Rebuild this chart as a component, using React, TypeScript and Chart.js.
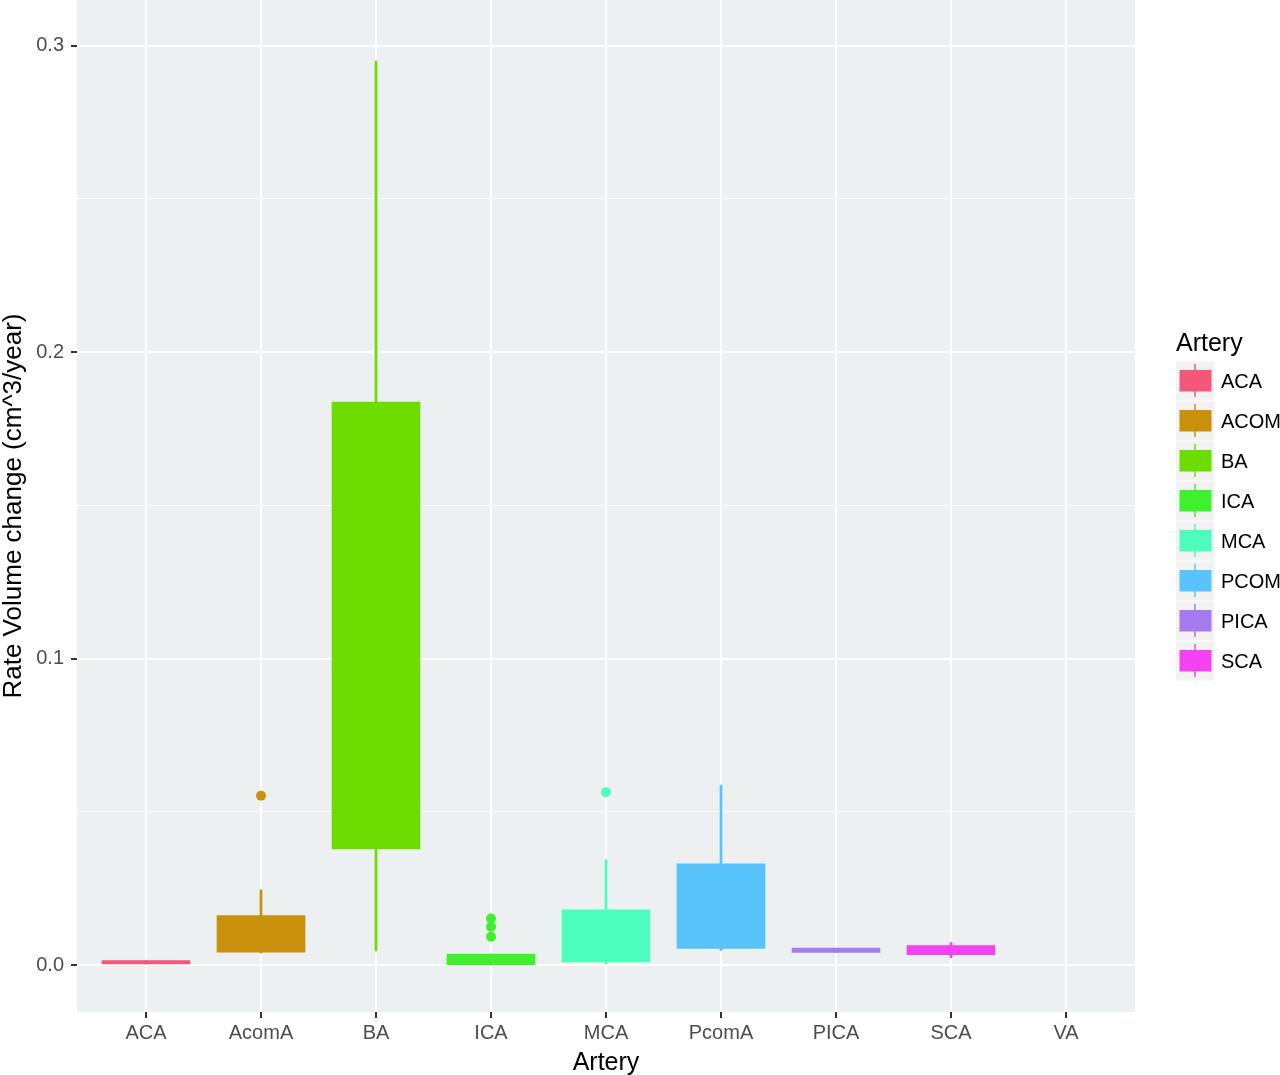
import React, { useEffect, useRef } from 'react';
import { Chart, registerables } from 'chart.js';

Chart.register(...registerables);

// ---- data ----
const categories = ['ACA', 'AcomA', 'BA', 'ICA', 'MCA', 'PcomA', 'PICA', 'SCA', 'VA'];
const arteryColors = ['#F5577A', '#C9900B', '#6FDC00', '#3FF02C', '#4DFDBD', '#59C3FB', '#A47BEF', '#F343F1', '#FF61C3'];
const whiskerLow = [0.0, 0.0039, 0.0046, 0.0001, 0.0003, 0.0047, 0.0041, 0.0024, null];
const lowerQuartile = [0.0, 0.0042, 0.0379, 0.0001, 0.001, 0.0054, 0.0041, 0.0034, null];
const upperQuartile = [0.0014, 0.0161, 0.1837, 0.0036, 0.018, 0.033, 0.0055, 0.0063, null];
const whiskerHigh = [0.0014, 0.0245, 0.295, 0.0036, 0.0343, 0.0587, 0.0055, 0.0073, null];
const outlierArtery = ['AcomA', 'ICA', 'ICA', 'ICA', 'MCA'];
const outlierValue = [0.0552, 0.0152, 0.0125, 0.0092, 0.0564];
const legendLabels = ['ACA', 'ACOM', 'BA', 'ICA', 'MCA', 'PCOM', 'PICA', 'SCA'];
const yTicks = [0, 0.05, 0.1, 0.15, 0.2, 0.25, 0.3];
const yMajorTicks = [0, 0.1, 0.2, 0.3];

const FONT = '"Liberation Sans", Arial, Helvetica, sans-serif';
const PANEL_BG = '#ECF0F0';

const isMajor = (v: number) => yMajorTicks.some((m) => Math.abs(m - v) < 1e-9);

const panelPlugin = {
  id: 'panelBg',
  beforeDraw(chart: any) {
    const { ctx, chartArea } = chart;
    ctx.save();
    ctx.fillStyle = PANEL_BG;
    ctx.fillRect(chartArea.left, chartArea.top, chartArea.right - chartArea.left, chartArea.bottom - chartArea.top);
    ctx.restore();
  },
};

const legendPlugin = {
  id: 'ggLegend',
  afterDraw(chart: any) {
    const ctx = chart.ctx;
    const x0 = chart.chartArea.right + 41;
    ctx.save();
    ctx.fillStyle = '#000000';
    ctx.font = `25px ${FONT}`;
    ctx.textBaseline = 'alphabetic';
    ctx.textAlign = 'left';
    ctx.fillText('Artery', x0, 351);
    legendLabels.forEach((lab, i) => {
      const col = arteryColors[i];
      const cy = 381 + 40 * i;
      ctx.fillStyle = '#F2F2F2';
      ctx.fillRect(x0, cy - 19.5, 38, 39);
      ctx.strokeStyle = col;
      ctx.lineWidth = 1.5;
      ctx.beginPath();
      ctx.moveTo(x0 + 19, cy - 17);
      ctx.lineTo(x0 + 19, cy + 16);
      ctx.stroke();
      ctx.fillStyle = col;
      ctx.fillRect(x0 + 3.5, cy - 11, 32, 21.5);
      ctx.fillStyle = '#000000';
      ctx.font = `20px ${FONT}`;
      ctx.textBaseline = 'middle';
      ctx.fillText(lab, x0 + 45, cy + 1);
    });
    ctx.restore();
  },
};

export default function App() {
  const canvasRef = useRef<HTMLCanvasElement | null>(null);

  useEffect(() => {
    if (!canvasRef.current) return;
    const idx = categories.map((_, i) => i).filter((i) => lowerQuartile[i] !== null);

    const chart = new Chart(canvasRef.current, {
      type: 'bar',
      data: {
        datasets: [
          {
            type: 'scatter',
            label: 'outliers',
            data: outlierArtery.map((a, k) => ({ x: categories.indexOf(a) + 1, y: outlierValue[k] })),
            backgroundColor: outlierArtery.map((a) => arteryColors[categories.indexOf(a)]),
            borderWidth: 0,
            pointRadius: 5,
            order: 0,
          } as any,
          {
            type: 'bar',
            label: 'box',
            data: idx.map((i) => ({ x: i + 1, y: [lowerQuartile[i], upperQuartile[i]] })),
            backgroundColor: idx.map((i) => arteryColors[i]),
            borderWidth: 0,
            barThickness: 88,
            grouped: false,
            order: 1,
          } as any,
          {
            type: 'bar',
            label: 'whisker',
            data: idx.map((i) => ({ x: i + 1, y: [whiskerLow[i], whiskerHigh[i]] })),
            backgroundColor: idx.map((i) => arteryColors[i]),
            borderWidth: 0,
            barThickness: 2,
            grouped: false,
            order: 2,
          } as any,
        ],
      },
      options: {
        responsive: false,
        animation: false,
        events: [],
        layout: { autoPadding: false, padding: { left: 0, right: 145, top: 0, bottom: 0 } },
        plugins: {
          legend: { display: false },
          tooltip: { enabled: false },
        },
        scales: {
          x: {
            type: 'linear',
            min: 0.4,
            max: 9.6,
            offset: false,
            afterBuildTicks: (scale: any) => {
              scale.ticks = categories.map((_, i) => ({ value: i + 1 }));
            },
            afterFit: (scale: any) => {
              scale.height = 63;
              scale.paddingLeft = 0;
              scale.paddingRight = 0;
            },
            ticks: {
              callback: (v: any) => categories[Math.round(Number(v)) - 1] ?? '',
              color: '#4D4D4D',
              font: { family: FONT, size: 20 },
              padding: 3,
              maxRotation: 0,
              autoSkip: false,
            },
            grid: {
              offset: false,
              color: '#FFFFFF',
              lineWidth: 2,
              tickColor: '#333333',
              tickLength: 6,
              tickWidth: 2,
            },
            border: { display: false },
            title: {
              display: true,
              text: 'Artery',
              color: '#000000',
              font: { family: FONT, size: 25, lineHeight: 1.2 },
              padding: { top: 0, bottom: -3 },
            },
          },
          y: {
            type: 'linear',
            min: -0.01534,
            max: 0.3149,
            offset: false,
            afterBuildTicks: (scale: any) => {
              scale.ticks = yTicks.map((v) => ({ value: v }));
            },
            afterFit: (scale: any) => {
              scale.width = 77;
              scale.paddingTop = 0;
              scale.paddingBottom = 0;
            },
            ticks: {
              callback: (v: any) => (isMajor(Number(v)) ? Number(v).toFixed(1) : ''),
              color: '#4D4D4D',
              font: { family: FONT, size: 20 },
              padding: 7,
            },
            grid: {
              color: '#FFFFFF',
              lineWidth: (c: any) => (c.tick && isMajor(c.tick.value) ? 2 : 1),
              tickColor: (c: any) => (c.tick && isMajor(c.tick.value) ? '#333333' : 'rgba(0,0,0,0)'),
              tickLength: 6,
              tickWidth: 2,
            },
            border: { display: false },
            title: {
              display: true,
              text: 'Rate Volume change (cm^3/year)',
              color: '#000000',
              font: { family: FONT, size: 26, lineHeight: 1 },
              padding: { top: 1, bottom: 0 },
            },
          },
        },
      } as any,
      plugins: [panelPlugin, legendPlugin],
    });

    return () => chart.destroy();
  }, []);

  return (
    <div style={{ position: 'absolute', left: 0, top: 0, width: 1280, height: 1075, background: '#FFFFFF' }}>
      <canvas ref={canvasRef} width={1280} height={1075} />
    </div>
  );
}
